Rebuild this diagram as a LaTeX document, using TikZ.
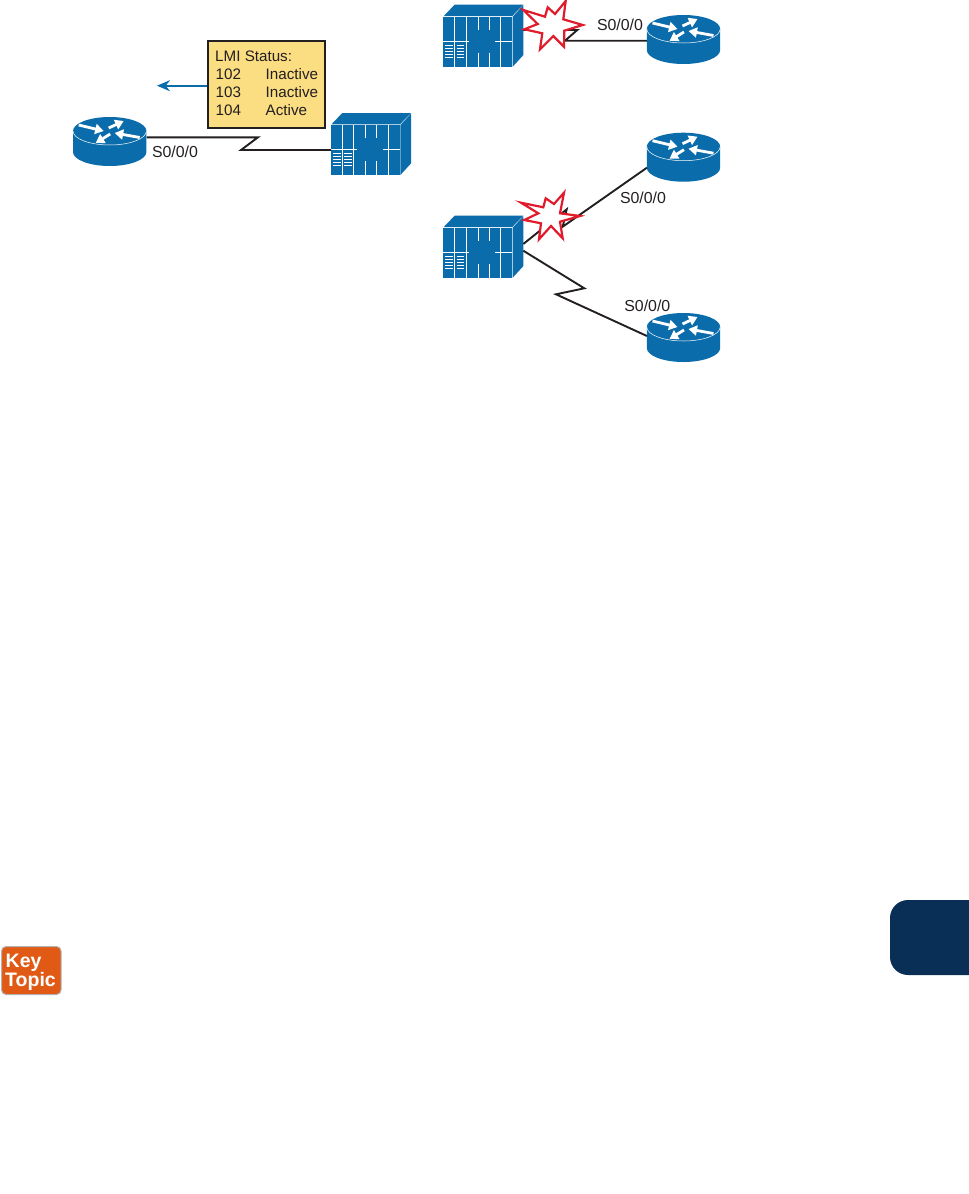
\documentclass[tikz,border=0pt]{standalone}
\usepackage{fontspec}
\setmainfont{Liberation Sans}
\usepackage{tikz}
\usetikzlibrary{arrows.meta}
\definecolor{ciscoblue}{HTML}{0B6CAB}
\definecolor{notefill}{HTML}{FBDD82}
\definecolor{wirecolor}{HTML}{231F20}
\definecolor{burstred}{HTML}{E01B2B}
\definecolor{keyorange}{HTML}{E05A16}
\definecolor{tabnavy}{HTML}{0A2F57}
\tikzset{
    wire/.style={draw=wirecolor, line width=1.9pt, line join=miter},
    portlabel/.style={font=\fontsize{15.9}{18}\selectfont, text=wirecolor, inner sep=0pt},
    notetext/.style={anchor=base west, inner sep=0pt, font=\fontsize{15.2}{18}\selectfont, text=wirecolor},
    keytext/.style={anchor=base west, inner sep=0pt, text=white, font=\bfseries\fontsize{19.5}{19}\selectfont},
    burst/.style={draw=burstred, fill=white, line width=2.2pt, line join=miter},
    routerarrow/.style={draw=white, line width=2.8pt, -{Triangle[length=8.5pt,width=10pt]}},
    panelline/.style={draw=white, line width=1pt},
    router/.pic={
        \fill[ciscoblue] (-36.7,0) -- (-36.7,21) arc[start angle=180, end angle=0, x radius=36.7, y radius=14]
            -- (36.7,0) -- cycle;
        \fill[ciscoblue] (0,0) circle[x radius=36.7, y radius=14];
        \draw[white, line width=0.5pt] (-36.7,0) arc[start angle=180, end angle=0, x radius=36.7, y radius=14];
        \draw[routerarrow] (-31,-6) -- (-6,0);
        \draw[routerarrow] (-1,-3) -- (14,-10);
        \draw[routerarrow] (0.5,3) -- (-14,12);
        \draw[routerarrow] (30,6.5) -- (5,2);
    },
    switchbox/.pic={
        % Front, top and side faces
        \fill[ciscoblue] (0,0) rectangle (68.7,50);
        \fill[ciscoblue] (0.4,-0.6) -- (11.3,-12) -- (80,-12) -- (68.9,-0.6) -- cycle;
        \fill[ciscoblue] (69.4,0) -- (80,-11.4) -- (80,38.4) -- (69.4,50) -- cycle;
        % Panel lines
        \foreach \i in {11.3,22.7,57.3}
            \draw[panelline] (\i,0) -- (\i,50);
        \foreach \i in {34.7,45.7} {
            \draw[panelline] (\i,0) -- (\i,13.3);
            \draw[panelline] (\i,36) -- (\i,50);
        }
        \draw[panelline] (0,24.3) -- (26,24.3);
        \draw[panelline] (52,24.3) -- (68.7,24.3);
        \foreach \j in {28.5,31.5,34.5,37.5,40.5} {
            \draw[panelline] (2,\j) -- (9.5,\j);
            \draw[panelline] (13.3,\j) -- (20.7,\j);
        }
    }
}

\begin{document}
\begin{tikzpicture}[x=1pt, y=-1pt]
    \useasboundingbox (0,0) rectangle (969,1194);

    % Left side
    \pic at (109.7,131) {router};
    \pic at (331,125) {switchbox};
    \coordinate (routerA) at (146.5,137.3);
    \coordinate (switchA) at (331,150);
    \coordinate (zigA1) at (258,137.3);
    \coordinate (zigA2) at (241,150);
    \draw[wire] (routerA) -- (zigA1) -- (zigA2) -- (switchA);
    \node[portlabel] (labelA) at (175,151.7) {S0/0/0};

    % LMI message
    \node[draw=wirecolor, fill=notefill, line width=2pt, minimum width=117pt, minimum height=87pt,
          inner sep=0pt] (lmibox) at (266.2,84.3) {};
    \node[notetext] (lmititle) at (215,61) {LMI Status:};
    \foreach \num/\state/\ypos in {102/Inactive/79.3, 103/Inactive/97.3, 104/Active/115.3} {
        \node[notetext] (lmi\num) at (215.5,\ypos) {\num};
        \node[notetext] (state\num) at (265.5,\ypos) {\state};
    }
    \coordinate (lmitip) at (157,85.7);
    \draw[draw=ciscoblue, line width=1.8pt, -{Stealth[length=13pt,width=11pt]}] (lmitip -| lmibox.west) -- (lmitip);

    % Top right
    \pic at (443.3,16.7) {switchbox};
    \pic at (683.5,29) {router};
    \coordinate (switchB) at (523,30);
    \coordinate (routerB) at (646.9,40.7);
    \coordinate (zigB1) at (577.3,30);
    \coordinate (zigB2) at (565,40.7);
    \draw[wire] (switchB) -- (zigB1) -- (zigB2) -- (routerB);
    \node[portlabel] (labelB) at (620,25) {S0/0/0};
    \draw[burst] (523.3,10) -- (545,16.7) -- (547.7,7.3) -- (555,14) -- (565.7,1) -- (563.3,19.3) -- (582.7,25)
        -- (564.3,30.7) -- (564,46.7) -- (553.3,36) -- (540,49.3) -- (542.3,33.3) -- (524.3,29.3) -- (537.7,24) -- cycle;

    % Bottom right
    \pic at (443.3,227.7) {switchbox};
    \pic at (683.5,146.7) {router};
    \pic at (683.5,327) {router};
    \coordinate (switchC) at (523.3,244);
    \coordinate (routerC) at (646.9,167.7);
    \coordinate (zigC1) at (566.7,209.3);
    \coordinate (zigC2) at (562.7,226.7);
    \draw[wire] (switchC) -- (zigC1) -- (zigC2) -- (routerC);
    \node[portlabel] (labelC) at (643,198) {S0/0/0};
    \coordinate (switchD) at (523.3,250.7);
    \coordinate (routerD) at (646.9,336);
    \coordinate (zigD1) at (584.3,288.3);
    \coordinate (zigD2) at (556,294.3);
    \draw[wire] (switchD) -- (zigD1) -- (zigD2) -- (routerD);
    \node[portlabel] (labelD) at (647.3,305.7) {S0/0/0};
    \draw[burst] (521,202.7) -- (543.3,207.3) -- (545.7,198.3) -- (554,204) -- (564,192.7) -- (560,213.3) -- (580,216)
        -- (560,221.7) -- (562.7,238.3) -- (551,226) -- (539,239.3) -- (541,223.3) -- (524.3,220) -- (538.3,213.3) -- cycle;

    % Page furniture
    \node[draw=black!30, fill=keyorange, line width=1pt, rounded corners=4.5pt, minimum width=59.5pt,
          minimum height=48pt, inner sep=0pt] (keybox) at (31.3,970.5) {};
    \node[keytext] (keyword) at (5.5,967) {Key};
    \node[keytext] (topicword) at (5,986) {Topic};
    \fill[tabnavy] (969,900) -- (908,900) arc[start angle=270, end angle=180, radius=18] -- (890,957)
        arc[start angle=180, end angle=90, radius=18] -- (969,975) -- cycle;
\end{tikzpicture}
\end{document}
